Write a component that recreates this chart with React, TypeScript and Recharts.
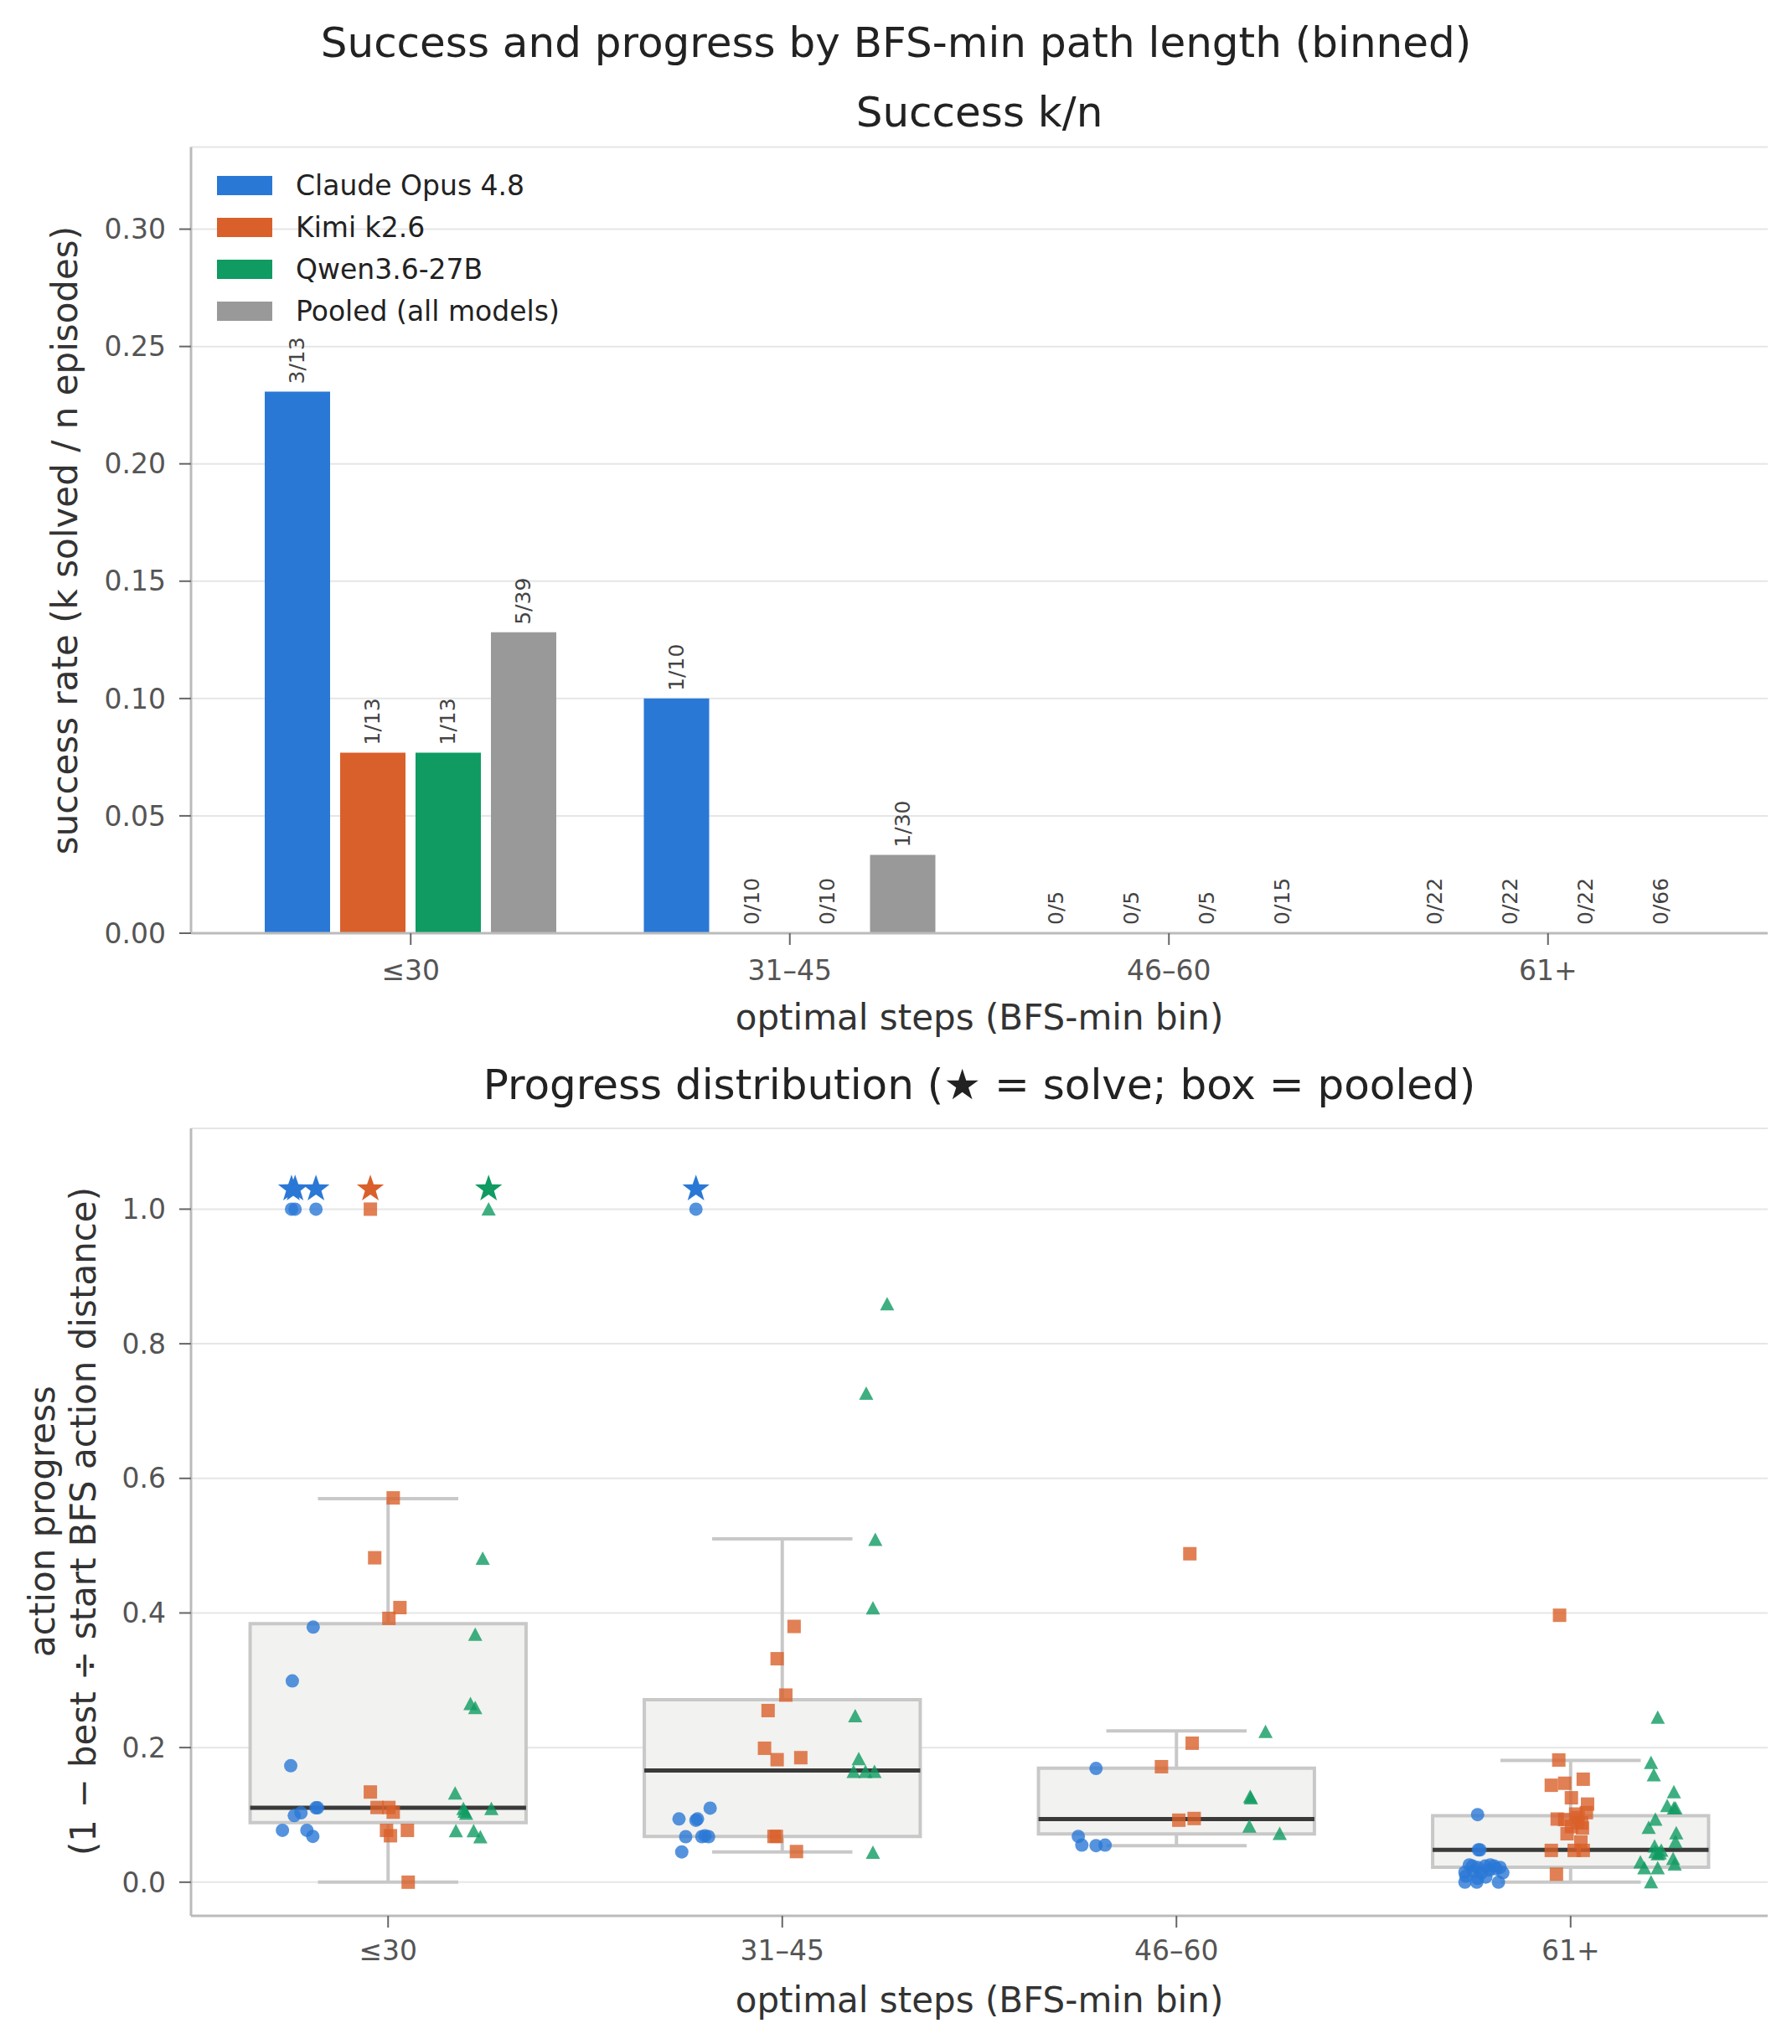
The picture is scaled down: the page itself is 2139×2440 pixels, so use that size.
import React from 'react';
import {
  BarChart,
  Bar,
  XAxis,
  YAxis,
  CartesianGrid,
  LabelList,
  Label,
  ScatterChart,
  Scatter,
  ReferenceArea,
  ReferenceLine,
} from 'recharts';

const FONT = '"DejaVu Sans", sans-serif';
const W = 2139;

// ---- data ----
const bins = ['≤30', '31–45', '46–60', '61+'];

const claudeSolved = [3, 1, 0, 0];
const claudeEpisodes = [13, 10, 5, 22];
const kimiSolved = [1, 0, 0, 0];
const kimiEpisodes = [13, 10, 5, 22];
const qwenSolved = [1, 0, 0, 0];
const qwenEpisodes = [13, 10, 5, 22];
const pooledSolved = [5, 1, 0, 0];
const pooledEpisodes = [39, 30, 15, 66];

// pooled box stats per bin
const boxQ1 = [0.0885, 0.068, 0.0717, 0.0222];
const boxMedian = [0.1105, 0.166, 0.0938, 0.048];
const boxQ3 = [0.384, 0.271, 0.1695, 0.0988];
const whiskerLow = [0, 0.045, 0.0542, 0];
const whiskerHigh = [0.57, 0.51, 0.2248, 0.181];

// per-episode action progress, one list per bin
const claudeProgress = [
  [1, 1, 1, 0.379, 0.299, 0.173, 0.1105, 0.1105, 0.103, 0.099, 0.077, 0.077, 0.068],
  [1, 0.11, 0.094, 0.092, 0.094, 0.0676, 0.0676, 0.069, 0.0676, 0.045],
  [0.169, 0.068, 0.0551, 0.0543, 0.0551],
  [0.1004, 0.048, 0.048, 0.0256, 0.022, 0.024, 0.0256, 0.024, 0.022, 0.014, 0.014, 0.016, 0.018, 0.0148, 0.009, 0.0077, 0.0056, 0, 0, 0, 0.02, 0.024],
];
const kimiProgress = [
  [1, 0.571, 0.482, 0.408, 0.392, 0.134, 0.111, 0.111, 0.104, 0.077, 0.077, 0.069, 0],
  [0.38, 0.332, 0.278, 0.255, 0.199, 0.182, 0.185, 0.068, 0.068, 0.0455],
  [0.488, 0.2065, 0.1716, 0.0921, 0.0946],
  [0.3966, 0.1815, 0.153, 0.144, 0.147, 0.1254, 0.116, 0.1033, 0.1012, 0.0938, 0.093, 0.096, 0.088, 0.0825, 0.0805, 0.072, 0.0597, 0.0472, 0.0472, 0.0472, 0.0119, 0.089],
];
const qwenProgress = [
  [1, 0.481, 0.368, 0.265, 0.259, 0.132, 0.109, 0.105, 0.102, 0.109, 0.076, 0.076, 0.067],
  [0.859, 0.726, 0.509, 0.407, 0.247, 0.183, 0.164, 0.164, 0.164, 0.044],
  [0.2235, 0.127, 0.125, 0.083, 0.072],
  [0.2447, 0.1775, 0.159, 0.134, 0.1135, 0.11, 0.11, 0.093, 0.081, 0.073, 0.0597, 0.0534, 0.0472, 0.0418, 0.043, 0.0297, 0.0347, 0.0264, 0.021, 0.021, 0, 0.045],
];

// horizontal jitter of each point (bin units, relative to the bin centre)
const claudeJitter = [
  [-0.245, -0.236, -0.183, -0.19, -0.243, -0.247, -0.183, -0.179, -0.221, -0.238, -0.268, -0.206, -0.191],
  [-0.219, -0.183, -0.262, -0.219, -0.215, -0.245, -0.204, -0.196, -0.187, -0.255],
  [-0.204, -0.249, -0.24, -0.204, -0.181],
  [-0.236, -0.23, -0.234, -0.257, -0.236, -0.217, -0.204, -0.194, -0.179, -0.172, -0.226, -0.247, -0.206, -0.268, -0.266, -0.215, -0.236, -0.268, -0.238, -0.183, -0.189, -0.249],
];
const kimiJitter = [
  [-0.045, 0.013, -0.034, 0.03, 0.002, -0.045, -0.028, 0.002, 0.013, -0.004, 0.049, 0.006, 0.051],
  [0.03, -0.013, 0.009, -0.036, -0.045, -0.013, 0.047, -0.021, -0.015, 0.036],
  [0.034, 0.04, -0.038, 0.006, 0.045],
  [-0.028, -0.03, 0.032, -0.049, -0.015, 0.002, 0.043, 0.04, 0.013, -0.034, -0.015, 0.019, 0.028, 0.002, 0.03, -0.009, 0.026, -0.049, 0.009, 0.032, -0.036, 0.017],
];
const qwenJitter = [
  [0.255, 0.24, 0.221, 0.209, 0.221, 0.17, 0.191, 0.194, 0.198, 0.262, 0.172, 0.217, 0.234],
  [0.266, 0.213, 0.236, 0.23, 0.185, 0.194, 0.181, 0.211, 0.234, 0.23],
  [0.226, 0.187, 0.189, 0.185, 0.262],
  [0.221, 0.204, 0.211, 0.262, 0.245, 0.262, 0.266, 0.215, 0.198, 0.268, 0.266, 0.213, 0.23, 0.221, 0.226, 0.177, 0.26, 0.264, 0.187, 0.221, 0.204, 0.215],
];

const models = [
  { key: 'claude', name: 'Claude Opus 4.8', color: '#2A78D6' },
  { key: 'kimi', name: 'Kimi k2.6', color: '#D9602B' },
  { key: 'qwen', name: 'Qwen3.6-27B', color: '#0F9B62' },
  { key: 'pooled', name: 'Pooled (all models)', color: '#999999' },
];

const frac = (k: number[], n: number[], i: number) => k[i] / n[i];
const tag = (k: number[], n: number[], i: number) => `${k[i]}/${n[i]}`;

const barData = bins.map((bin, i) => ({
  bin,
  claude: frac(claudeSolved, claudeEpisodes, i),
  claudeTag: tag(claudeSolved, claudeEpisodes, i),
  kimi: frac(kimiSolved, kimiEpisodes, i),
  kimiTag: tag(kimiSolved, kimiEpisodes, i),
  qwen: frac(qwenSolved, qwenEpisodes, i),
  qwenTag: tag(qwenSolved, qwenEpisodes, i),
  pooled: frac(pooledSolved, pooledEpisodes, i),
  pooledTag: tag(pooledSolved, pooledEpisodes, i),
}));

const toPoints = (values: number[][], jitter: number[][]) =>
  values.flatMap((list, bin) => list.map((y, j) => ({ x: bin + jitter[bin][j], y })));

const claudePts = toPoints(claudeProgress, claudeJitter);
const kimiPts = toPoints(kimiProgress, kimiJitter);
const qwenPts = toPoints(qwenProgress, qwenJitter);

// solved episodes get a star just above 1.0
const solves = (pts: { x: number; y: number }[]) =>
  pts.filter((p) => p.y >= 1).map((p) => ({ x: p.x, y: 1.03 }));

// ---- drawing helpers ----
const BarTag = (props: any) => {
  const { x, y, width, height, value } = props;
  const cx = Number(x) + Number(width) / 2;
  const top = Math.min(Number(y), Number(y) + Number(height)) - 9;
  return (
    <text
      x={cx}
      y={top}
      transform={`rotate(-90 ${cx} ${top})`}
      textAnchor="start"
      dominantBaseline="central"
      fontSize={25}
      fill="#444"
      fontFamily={FONT}
    >
      {value}
    </text>
  );
};

const dotShape = (color: string) => (p: any) => (
  <circle cx={p.cx} cy={p.cy} r={8} fill={color} fillOpacity={0.8} />
);
const squareShape = (color: string) => (p: any) => (
  <rect x={p.cx - 8} y={p.cy - 8} width={16} height={16} fill={color} fillOpacity={0.8} />
);
const triangleShape = (color: string) => (p: any) => (
  <polygon
    points={`${p.cx},${p.cy - 8.5} ${p.cx + 8.5},${p.cy + 7.5} ${p.cx - 8.5},${p.cy + 7.5}`}
    fill={color}
    fillOpacity={0.8}
  />
);
const starShape = (color: string) => (p: any) => {
  const pts: string[] = [];
  for (let k = 0; k < 10; k++) {
    const r = k % 2 === 0 ? 17 : 6.8;
    const a = -Math.PI / 2 + (k * Math.PI) / 5;
    pts.push(`${p.cx + r * Math.cos(a)},${p.cy + r * Math.sin(a)}`);
  }
  return <polygon points={pts.join(' ')} fill={color} />;
};

const axisLine = { stroke: '#bbbbbb', strokeWidth: 3 };
const tickLine = { stroke: '#666666', strokeWidth: 2 };
const tickStyle = { fill: '#555555', fontSize: 33, fontFamily: FONT };

const titleStyle = (top: number, center: number): React.CSSProperties => ({
  position: 'absolute',
  top: top - 30,
  left: center - 1000,
  width: 2000,
  height: 60,
  lineHeight: '60px',
  textAlign: 'center',
  fontSize: 50,
  color: '#222',
  fontFamily: FONT,
  whiteSpace: 'nowrap',
});

const PLOT_CX = (228 + 2110) / 2;

const App: React.FC = () => {
  return (
    <div
      style={{
        position: 'absolute',
        left: 0,
        top: 0,
        width: W,
        height: 2440,
        background: '#fff',
        fontFamily: FONT,
      }}
    >
      <div style={titleStyle(51, W / 2)}>Success and progress by BFS-min path length (binned)</div>
      <div style={titleStyle(134, PLOT_CX)}>Success k/n</div>
      <div style={titleStyle(1295, PLOT_CX)}>Progress distribution (★ = solve; box = pooled)</div>

      {/* top: success rate bars */}
      <div style={{ position: 'absolute', left: 0, top: 0 }}>
        <BarChart
          width={W}
          height={1250}
          data={barData}
          margin={{ top: 175.5, right: 29, bottom: 0, left: 0 }}
          barSize={78}
          barGap={12}
        >
          <CartesianGrid vertical={false} stroke="#e6e6e6" strokeWidth={2} />
          <XAxis
            dataKey="bin"
            height={136}
            padding={{ left: 36, right: 36 }}
            interval={0}
            axisLine={axisLine}
            tickLine={tickLine}
            tickSize={14}
            tickMargin={19}
            tick={tickStyle}
          >
            <Label
              content={() => (
                <text x={PLOT_CX} y={1214} textAnchor="middle" dominantBaseline="central" fontSize={42} fill="#333" fontFamily={FONT}>
                  optimal steps (BFS-min bin)
                </text>
              )}
            />
          </XAxis>
          <YAxis
            width={228}
            domain={[0, 0.335]}
            ticks={[0, 0.05, 0.1, 0.15, 0.2, 0.25, 0.3]}
            tickFormatter={(v: number) => v.toFixed(2)}
            allowDataOverflow
            axisLine={axisLine}
            tickLine={tickLine}
            tickSize={14}
            tickMargin={16}
            tick={tickStyle}
          >
            <Label
              content={() => (
                <text
                  x={77}
                  y={645}
                  transform="rotate(-90 77 645)"
                  textAnchor="middle"
                  dominantBaseline="central"
                  fontSize={42}
                  fill="#333"
                  fontFamily={FONT}
                >
                  success rate (k solved / n episodes)
                </text>
              )}
            />
          </YAxis>
          {models.map((m) => (
            <Bar
              key={m.key}
              dataKey={m.key}
              name={m.name}
              fill={m.color}
              minPointSize={(v: number) => (v === 0 ? 1 : 0)}
              isAnimationActive={false}
            >
              <LabelList dataKey={`${m.key}Tag`} content={BarTag} />
            </Bar>
          ))}
        </BarChart>
      </div>

      {/* legend */}
      <div style={{ position: 'absolute', left: 259, top: 196 }}>
        {models.map((m) => (
          <div key={m.key} style={{ height: 50, display: 'flex', alignItems: 'center' }}>
            <div style={{ width: 66, height: 23, background: m.color }} />
            <span style={{ marginLeft: 28, fontSize: 33, color: '#222', fontFamily: FONT }}>{m.name}</span>
          </div>
        ))}
      </div>

      {/* bottom: progress distribution */}
      <div style={{ position: 'absolute', left: 0, top: 1250 }}>
        <ScatterChart width={W} height={1190} margin={{ top: 97, right: 29, bottom: 0, left: 0 }}>
          <CartesianGrid vertical={false} stroke="#e6e6e6" strokeWidth={2} />
          <XAxis
            type="number"
            dataKey="x"
            domain={[-0.5, 3.5]}
            ticks={[0, 1, 2, 3]}
            tickFormatter={(v: number) => bins[v] ?? ''}
            allowDataOverflow
            height={153}
            interval={0}
            axisLine={axisLine}
            tickLine={tickLine}
            tickSize={14}
            tickMargin={16}
            tick={tickStyle}
          >
            <Label
              content={() => (
                <text x={PLOT_CX} y={1137} textAnchor="middle" dominantBaseline="central" fontSize={42} fill="#333" fontFamily={FONT}>
                  optimal steps (BFS-min bin)
                </text>
              )}
            />
          </XAxis>
          <YAxis
            type="number"
            dataKey="y"
            width={228}
            domain={[-0.05, 1.12]}
            ticks={[0, 0.2, 0.4, 0.6, 0.8, 1.0]}
            tickFormatter={(v: number) => v.toFixed(1)}
            allowDataOverflow
            axisLine={axisLine}
            tickLine={tickLine}
            tickSize={14}
            tickMargin={16}
            tick={tickStyle}
          >
            <Label
              content={() => (
                <g fontSize={42} fill="#333" fontFamily={FONT}>
                  <text x={50} y={566} transform="rotate(-90 50 566)" textAnchor="middle" dominantBaseline="central">
                    action progress
                  </text>
                  <text x={99} y={566} transform="rotate(-90 99 566)" textAnchor="middle" dominantBaseline="central">
                    (1 − best ÷ start BFS action distance)
                  </text>
                </g>
              )}
            />
          </YAxis>

          {bins.map((b, i) => (
            <ReferenceArea
              key={`box-${b}`}
              x1={i - 0.35}
              x2={i + 0.35}
              y1={boxQ1[i]}
              y2={boxQ3[i]}
              fill="#f2f2f0"
              fillOpacity={1}
              stroke="#c8c8c8"
              strokeWidth={4}
            />
          ))}
          {bins.map((b, i) => (
            <ReferenceLine
              key={`wl-${b}`}
              segment={[{ x: i, y: whiskerLow[i] }, { x: i, y: boxQ1[i] }]}
              stroke="#c8c8c8"
              strokeWidth={4}
            />
          ))}
          {bins.map((b, i) => (
            <ReferenceLine
              key={`wh-${b}`}
              segment={[{ x: i, y: boxQ3[i] }, { x: i, y: whiskerHigh[i] }]}
              stroke="#c8c8c8"
              strokeWidth={4}
            />
          ))}
          {bins.map((b, i) => (
            <ReferenceLine
              key={`cl-${b}`}
              segment={[{ x: i - 0.178, y: whiskerLow[i] }, { x: i + 0.178, y: whiskerLow[i] }]}
              stroke="#c8c8c8"
              strokeWidth={4}
            />
          ))}
          {bins.map((b, i) => (
            <ReferenceLine
              key={`ch-${b}`}
              segment={[{ x: i - 0.178, y: whiskerHigh[i] }, { x: i + 0.178, y: whiskerHigh[i] }]}
              stroke="#c8c8c8"
              strokeWidth={4}
            />
          ))}
          {bins.map((b, i) => (
            <ReferenceLine
              key={`md-${b}`}
              segment={[{ x: i - 0.35, y: boxMedian[i] }, { x: i + 0.35, y: boxMedian[i] }]}
              stroke="#3a3a3a"
              strokeWidth={5}
            />
          ))}

          <Scatter data={claudePts} shape={dotShape(models[0].color)} isAnimationActive={false} />
          <Scatter data={kimiPts} shape={squareShape(models[1].color)} isAnimationActive={false} />
          <Scatter data={qwenPts} shape={triangleShape(models[2].color)} isAnimationActive={false} />
          <Scatter data={solves(claudePts)} shape={starShape(models[0].color)} isAnimationActive={false} />
          <Scatter data={solves(kimiPts)} shape={starShape(models[1].color)} isAnimationActive={false} />
          <Scatter data={solves(qwenPts)} shape={starShape(models[2].color)} isAnimationActive={false} />
        </ScatterChart>
      </div>
    </div>
  );
};

export default App;
